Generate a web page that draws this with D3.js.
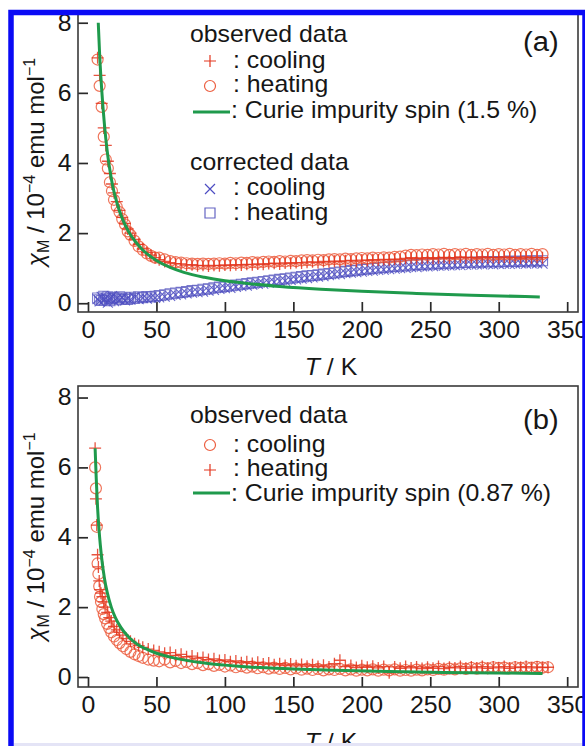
<!DOCTYPE html>
<html>
<head>
<meta charset="utf-8">
<script src="https://cdn.jsdelivr.net/npm/d3@7"></script>
<style>
body { margin: 0; background: #fff; }
svg { display: block; font-family: "Liberation Sans", Arial, Helvetica, sans-serif; }
</style>
</head>
<body>
<script>
// ---- panel (a) data, chi_M in 1e-4 emu/mol ----
var tempA = [
	7, 8.5, 10, 11.5, 13, 14.5, 16, 17.5, 19, 21,
	23, 25, 27, 29, 31, 34, 37, 40, 43, 46,
	49, 52, 56, 60, 64, 68, 72, 76, 80, 84,
	88, 92, 96, 100, 104, 108, 112, 116, 120, 124,
	128, 132, 136, 140, 144, 148, 152, 156, 160, 164,
	168, 172, 176, 180, 184, 188, 192, 196, 200, 204,
	208, 212, 216, 220, 224, 228, 232, 236, 240, 244,
	248, 252, 256, 260, 264, 268, 272, 276, 280, 284,
	288, 292, 296, 300, 304, 308, 312, 316, 320, 324,
	328, 332];
// observed, cooling (+)
var coolObsA = [
	7.0, 6.5, 5.7, 5.0, 4.5, 4.05, 3.7, 3.4, 3.15, 2.9,
	2.65, 2.45, 2.28, 2.12, 2.0, 1.82, 1.68, 1.55, 1.45, 1.37,
	1.3, 1.24, 1.19, 1.16, 1.13, 1.12, 1.09, 1.1, 1.07, 1.08,
	1.06, 1.08, 1.07, 1.09, 1.08, 1.1, 1.09, 1.11, 1.1, 1.12,
	1.11, 1.13, 1.14, 1.12, 1.15, 1.14, 1.16, 1.15, 1.17, 1.18,
	1.16, 1.19, 1.18, 1.2, 1.19, 1.21, 1.22, 1.2, 1.23, 1.22,
	1.24, 1.23, 1.25, 1.24, 1.26, 1.25, 1.28, 1.3, 1.27, 1.29,
	1.3, 1.28, 1.3, 1.31, 1.29, 1.3, 1.32, 1.3, 1.31, 1.29,
	1.32, 1.3, 1.31, 1.3, 1.32, 1.3, 1.31, 1.29, 1.32, 1.3,
	1.31, 1.3];
// observed, heating (o)
var heatObsA = [
	6.95, 6.2, 5.6, 4.75, 4.1, 3.85, 3.45, 3.2, 2.95, 2.75,
	2.6, 2.4, 2.25, 2.05, 1.95, 1.78, 1.62, 1.52, 1.42, 1.35,
	1.3, 1.3, 1.25, 1.2, 1.17, 1.16, 1.14, 1.13, 1.12, 1.13,
	1.12, 1.13, 1.14, 1.13, 1.15, 1.14, 1.16, 1.15, 1.17, 1.16,
	1.18, 1.19, 1.18, 1.2, 1.19, 1.21, 1.2, 1.22, 1.23, 1.22,
	1.24, 1.23, 1.25, 1.26, 1.25, 1.27, 1.26, 1.28, 1.29, 1.28,
	1.3, 1.29, 1.31, 1.3, 1.32, 1.33, 1.36, 1.38, 1.37, 1.39,
	1.38, 1.4, 1.39, 1.41, 1.38, 1.4, 1.39, 1.41, 1.38, 1.4,
	1.39, 1.41, 1.38, 1.4, 1.39, 1.41, 1.38, 1.4, 1.39, 1.41,
	1.38, 1.4];
// corrected, cooling (x)
var coolCorA = [
	0.12, 0.05, 0.18, 0.08, 0.15, 0.02, 0.12, 0.2, 0.06, 0.14,
	0.1, 0.16, 0.08, 0.13, 0.1, 0.17, 0.12, 0.15, 0.13, 0.17,
	0.15, 0.17, 0.19, 0.21, 0.24, 0.25, 0.28, 0.3, 0.32, 0.33,
	0.36, 0.38, 0.41, 0.43, 0.44, 0.47, 0.49, 0.5, 0.53, 0.55,
	0.56, 0.59, 0.6, 0.63, 0.64, 0.67, 0.68, 0.7, 0.72, 0.74,
	0.76, 0.77, 0.8, 0.82, 0.83, 0.86, 0.87, 0.89, 0.9, 0.92,
	0.93, 0.95, 0.96, 0.97, 0.99, 1.0, 1.01, 1.03, 1.03, 1.05,
	1.05, 1.06, 1.07, 1.07, 1.08, 1.09, 1.09, 1.1, 1.1, 1.11,
	1.11, 1.12, 1.11, 1.12, 1.13, 1.12, 1.13, 1.14, 1.13, 1.14,
	1.14, 1.13];
// corrected, heating (square)
var heatCorA = [
	0.15, 0.1, 0.08, 0.2, 0.12, 0.18, 0.07, 0.14, 0.16, 0.1,
	0.18, 0.12, 0.15, 0.11, 0.17, 0.14, 0.18, 0.16, 0.19, 0.18,
	0.2, 0.22, 0.24, 0.27, 0.29, 0.31, 0.33, 0.36, 0.37, 0.4,
	0.41, 0.44, 0.46, 0.48, 0.5, 0.52, 0.54, 0.56, 0.58, 0.6,
	0.62, 0.64, 0.66, 0.68, 0.7, 0.72, 0.74, 0.76, 0.78, 0.79,
	0.81, 0.83, 0.85, 0.87, 0.89, 0.91, 0.93, 0.94, 0.96, 0.98,
	0.99, 1.01, 1.02, 1.04, 1.05, 1.06, 1.07, 1.09, 1.1, 1.1,
	1.12, 1.12, 1.13, 1.14, 1.14, 1.15, 1.16, 1.16, 1.17, 1.17,
	1.18, 1.18, 1.19, 1.18, 1.19, 1.2, 1.19, 1.2, 1.2, 1.21,
	1.2, 1.21];
// Curie impurity (1.5 %)
var curieTA = [7.5, 8.5, 10, 12, 14, 16, 18, 21, 25, 30, 35, 40, 50, 60, 70, 85, 100, 120, 140, 170, 200, 240, 280, 330];
var curieA = [8.0, 7.1, 6.1, 5.1, 4.35, 3.8, 3.35, 2.88, 2.42, 2.02, 1.74, 1.52, 1.22, 1.02, 0.88, 0.74, 0.64, 0.55, 0.48, 0.4, 0.34, 0.28, 0.23, 0.18];

// ---- panel (b) data ----
var tempB = [
	5.2, 5.8, 6.4, 7, 7.6, 8.2, 8.8, 9.5, 10.5, 11.5,
	12.5, 14, 15.5, 17, 19, 21, 23, 25.5, 28, 31,
	34, 37, 40, 44, 48, 52, 56, 60, 64, 68,
	72, 76, 80, 84, 88, 92, 96, 100, 104, 108,
	112, 116, 120, 124, 128, 132, 136, 140, 144, 148,
	152, 156, 160, 164, 168, 172, 176, 180, 184, 188,
	192, 196, 200, 204, 208, 212, 216, 220, 224, 228,
	232, 236, 240, 244, 248, 252, 256, 260, 264, 268,
	272, 276, 280, 284, 288, 292, 296, 300, 304, 308,
	312, 316, 320, 324, 328, 332, 336];
// observed, cooling (o)
var coolObsB = [
	6.0, 5.4, 4.3, 3.25, 2.95, 2.6, 2.3, 2.15, 1.95, 1.8,
	1.68, 1.52, 1.4, 1.28, 1.16, 1.06, 0.97, 0.88, 0.8, 0.72,
	0.65, 0.6, 0.55, 0.5, 0.47, 0.45, 0.5, 0.42, 0.46, 0.4,
	0.43, 0.37, 0.4, 0.34, 0.37, 0.32, 0.35, 0.3, 0.33, 0.28,
	0.31, 0.27, 0.3, 0.25, 0.28, 0.24, 0.27, 0.23, 0.26, 0.22,
	0.25, 0.21, 0.24, 0.2, 0.23, 0.19, 0.22, 0.2, 0.23, 0.19,
	0.22, 0.18, 0.21, 0.19, 0.22, 0.18, 0.21, 0.19, 0.22, 0.18,
	0.2, 0.18, 0.21, 0.19, 0.22, 0.2, 0.23, 0.21, 0.24, 0.22,
	0.25, 0.23, 0.26, 0.24, 0.27, 0.25, 0.28, 0.26, 0.27, 0.25,
	0.28, 0.26, 0.28, 0.27, 0.29, 0.27, 0.28];
// observed, heating (+)
var heatObsB = [
	6.55, 5.1, 4.35, 3.5, 3.15, 2.75, 2.5, 2.4, 2.3, 2.15,
	2.0, 1.85, 1.7, 1.6, 1.45, 1.35, 1.28, 1.2, 1.1, 1.02,
	0.95, 0.9, 0.85, 0.8, 0.76, 0.72, 0.68, 0.7, 0.62, 0.65,
	0.58, 0.6, 0.54, 0.56, 0.5, 0.52, 0.47, 0.49, 0.44, 0.46,
	0.41, 0.44, 0.39, 0.42, 0.37, 0.4, 0.35, 0.38, 0.33, 0.37,
	0.32, 0.36, 0.31, 0.35, 0.3, 0.34, 0.29, 0.38, 0.48, 0.3,
	0.33, 0.27, 0.32, 0.28, 0.31, 0.26, 0.3, 0.12, 0.29, 0.25,
	0.3, 0.26, 0.29, 0.24, 0.28, 0.25, 0.3, 0.24, 0.28, 0.26,
	0.3, 0.25, 0.29, 0.26, 0.3, 0.25, 0.29, 0.26, 0.3, 0.25,
	0.29, 0.27, 0.3, 0.26, 0.29, 0.27, 0.28];
// Curie impurity (0.87 %)
var curieTB = [5.2, 6, 7, 8, 9, 10, 12, 14, 17, 20, 24, 30, 36, 42, 50, 60, 70, 85, 100, 120, 150, 180, 220, 260, 300, 332];
var curieB = [6.55, 5.7, 4.85, 4.25, 3.78, 3.4, 2.83, 2.43, 2.0, 1.7, 1.42, 1.13, 0.94, 0.81, 0.68, 0.57, 0.49, 0.4, 0.34, 0.28, 0.23, 0.19, 0.155, 0.13, 0.115, 0.1];

var xTicks = [0, 50, 100, 150, 200, 250, 300, 350];
var yTicks = [0, 2, 4, 6, 8];

// ---- drawing ----
var W = 585, H = 746;
var STRETCH = "scale(1.08,1)";   // source figure is a bit wide
var ink = "#161616";
var red = "#e3361f", orange = "#ec5e40", blue = "#4d4dc2", blue2 = "#6464c4", green = "#1f9a4c";

var svg = d3.select("body").append("svg").attr("width", W).attr("height", H);
svg.append("rect").attr("width", W).attr("height", H).attr("fill", "#fff");

var x = d3.scaleLinear().domain([-7.3, 357.9]).range([78, 578]);

var shapes = {
	plus: "M-6,0H6M0,-6V6",
	cross: "M-5,-5L5,5M-5,5L5,-5",
	square: "M-5,-5H5V5H-5Z",
	circle: d3.symbol(d3.symbolCircle, 95)()
};

function txt(g, tx, ty, size) {
	return g.append("text")
		.attr("transform", "translate(" + tx + "," + ty + ") " + STRETCH)
		.style("font-size", size + "px")
		.attr("fill", ink);
}

function styleAxis(sel) {
	sel.select(".domain").remove();
	sel.selectAll(".tick line").attr("stroke", "#2a2a2a").attr("stroke-width", 1.7);
	sel.selectAll(".tick text").style("font-size", "23px").attr("fill", ink)
		.attr("transform", STRETCH).style("font-family", "inherit");
}

function scatter(g, y, temps, vals, shape, color, width) {
	g.append("g").selectAll("path")
		.data(d3.zip(temps, vals))
		.join("path")
		.attr("transform", function(d) { return "translate(" + x(d[0]) + "," + y(d[1]) + ")"; })
		.attr("d", shapes[shape])
		.attr("fill", "none")
		.attr("stroke", color)
		.attr("stroke-width", width)
		.attr("opacity", 0.85);
}

function legendMark(g, shape, color, cx, cy) {
	g.append("path").attr("transform", "translate(" + cx + "," + cy + ")")
		.attr("d", shapes[shape]).attr("fill", "none")
		.attr("stroke", color).attr("stroke-width", 1.2);
}

function drawPanel(p) {
	var g = svg.append("g");
	var y = d3.scaleLinear().domain(p.yDom).range([p.bottom, p.top]);

	g.append("g").attr("transform", "translate(0," + p.bottom + ")")
		.call(d3.axisBottom(x).tickValues(xTicks).tickSize(-10).tickPadding(10).tickSizeOuter(0))
		.call(styleAxis);
	g.append("g").attr("transform", "translate(" + x.range()[0] + ",0)")
		.call(d3.axisLeft(y).tickValues(yTicks).tickSize(-10).tickPadding(6).tickSizeOuter(0))
		.call(styleAxis);

	p.series.forEach(function(s) {
		scatter(g, y, s.t, s.v, s.shape, s.color, s.w);
	});

	var line = d3.line().x(function(d) { return x(d[0]); }).y(function(d) { return y(d[1]); })
		.curve(d3.curveMonotoneX);
	g.append("path").datum(d3.zip(p.curieT, p.curie)).attr("d", line)
		.attr("fill", "none").attr("stroke", green).attr("stroke-width", 3);

	g.append("rect").attr("x", 78).attr("y", p.top)
		.attr("width", 500).attr("height", p.bottom - p.top)
		.attr("fill", "none").attr("stroke", "#3a3a3a").attr("stroke-width", 1.6);

	// x label
	var xl = txt(g, 331, p.bottom + 63, 23).attr("text-anchor", "middle");
	xl.append("tspan").style("font-style", "italic").text("T");
	xl.append("tspan").text(" / K");

	// y label
	var yl = g.append("text")
		.attr("transform", "translate(44," + ((p.top + p.bottom) / 2) + ") rotate(-90)")
		.attr("text-anchor", "middle").style("font-size", "24px").attr("fill", ink);
	yl.append("tspan").style("font-style", "italic").text("χ");
	yl.append("tspan").attr("dy", 5).style("font-size", "16px").text("M");
	yl.append("tspan").attr("dy", -5).text(" / 10");
	yl.append("tspan").attr("dy", -9).style("font-size", "16px").text("−4");
	yl.append("tspan").attr("dy", 9).text(" emu mol");
	yl.append("tspan").attr("dy", -9).style("font-size", "16px").text("−1");

	// panel tag
	txt(g, 523, p.tagY, 27).text(p.tag);

	// legend
	p.legend.forEach(function(r) {
		if (r.head) {
			txt(g, 190, r.ty, 23).text(r.label);
			return;
		}
		if (r.shape === "line") {
			g.append("line").attr("x1", 193).attr("x2", 230).attr("y1", r.my).attr("y2", r.my)
				.attr("stroke", green).attr("stroke-width", 3);
			txt(g, 231, r.ty, 23).text(r.label);
		} else {
			legendMark(g, r.shape, r.color, 210, r.my);
			txt(g, 233, r.ty, 23).text(r.label);
		}
	});
}

drawPanel({
	top: 12, bottom: 312, yDom: [-0.25, 8.306], tag: "(a)", tagY: 51,
	curieT: curieTA, curie: curieA,
	series: [
		{ t: tempA, v: heatCorA, shape: "square", color: blue2, w: 1.1 },
		{ t: tempA, v: coolCorA, shape: "cross", color: blue, w: 1.1 },
		{ t: tempA, v: heatObsA, shape: "circle", color: orange, w: 1.2 },
		{ t: tempA, v: coolObsA, shape: "plus", color: red, w: 1.3 }
	],
	legend: [
		{ head: true, label: "observed data", ty: 42 },
		{ shape: "plus", color: red, my: 61, label: ": cooling", ty: 68 },
		{ shape: "circle", color: orange, my: 86, label: ": heating", ty: 92 },
		{ shape: "line", my: 112, label: ": Curie impurity spin (1.5 %)", ty: 118 },
		{ head: true, label: "corrected data", ty: 170 },
		{ shape: "cross", color: blue, my: 189, label: ": cooling", ty: 195 },
		{ shape: "square", color: blue2, my: 213, label: ": heating", ty: 220 }
	]
});

drawPanel({
	top: 386, bottom: 687, yDom: [-0.286, 8.33], tag: "(b)", tagY: 429,
	curieT: curieTB, curie: curieB,
	series: [
		{ t: tempB, v: coolObsB, shape: "circle", color: orange, w: 1.2 },
		{ t: tempB, v: heatObsB, shape: "plus", color: red, w: 1.3 }
	],
	legend: [
		{ head: true, label: "observed data", ty: 423 },
		{ shape: "circle", color: orange, my: 445, label: ": cooling", ty: 452 },
		{ shape: "plus", color: red, my: 470, label: ": heating", ty: 476 },
		{ shape: "line", my: 493, label: ": Curie impurity spin (0.87 %)", ty: 501 }
	]
});

// blue outer border (bottom edge runs off the picture)
svg.append("rect").attr("x", 11).attr("y", 12.5).attr("width", 574).attr("height", 800)
	.attr("fill", "none").attr("stroke", "#0a0af5").attr("stroke-width", 5.5);
svg.append("rect").attr("x", 14).attr("y", 743).attr("width", 568).attr("height", 3)
	.attr("fill", "#e4e4f6");
</script>
</body>
</html>
